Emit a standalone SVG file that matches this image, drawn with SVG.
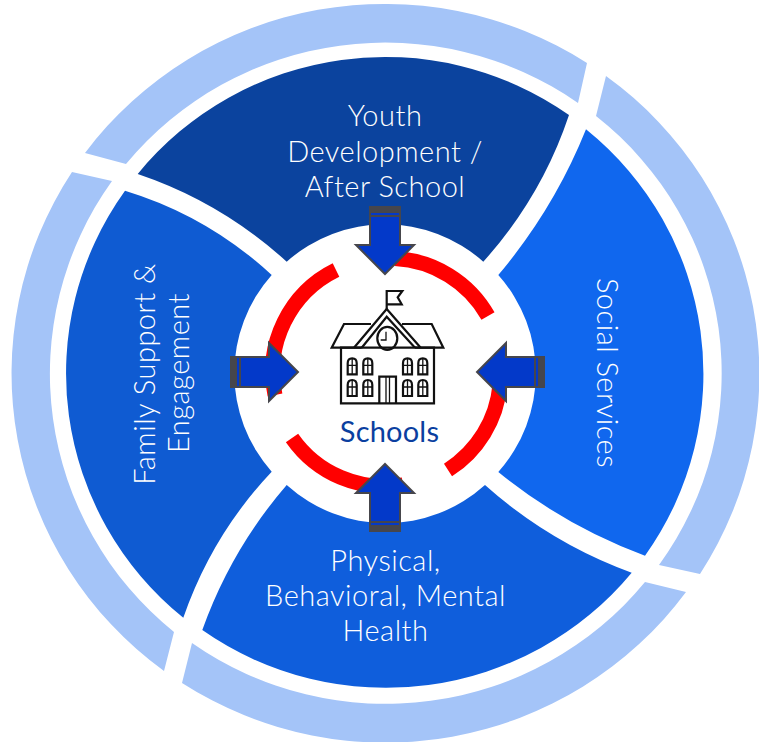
<svg xmlns="http://www.w3.org/2000/svg" width="759" height="742" viewBox="0 0 759 742">
<style>
.ring{fill:#a4c4f8}
.lbl{font-family:"Lato","Open Sans",sans-serif;font-weight:300;font-size:29px;letter-spacing:.5px;fill:#fff;text-anchor:middle}
.red{fill:none;stroke:#ff0000;stroke-width:15}
.arrow{fill:#0339c9;stroke:#46464c;stroke-width:2;stroke-linejoin:miter}
.band{fill:#46464c}
.ic{fill:none;stroke:#111;stroke-width:2.200}
.ic2{fill:none;stroke:#111;stroke-width:1.300}
</style>
<defs>
<g id="win"><path class="ic" d="M0,16V5Q0,0 4.500,0Q9,0 9,5V16Z"/><path class="ic2" d="M4.500,0V16M0,7H9"/></g>
<g id="arr"><path class="arrow" d="M-15,-67H15V-29H29L0,0L-29,-29H-15Z"/><rect class="band" x="-15" y="-67" width="30" height="6"/><rect class="band" x="-15" y="-59" width="30" height="2"/></g>
</defs>
<rect width="759" height="742" fill="#fff"/>
<g id="outer-ring">
<path class="ring" d="M85,153A373,369 0 0 1 587,63L578,103A334,329 0 0 0 126,164Z"/>
<path class="ring" d="M606,76A373,369 0 0 1 700,574L659,565A334,329 0 0 0 596,116Z"/>
<path class="ring" d="M686,592A373,369 0 0 1 182,683L192,643A334,329 0 0 0 645,582Z"/>
<path class="ring" d="M164,671A373,369 0 0 1 72,172L112,181A339,334 0 0 0 174,632Z"/>
</g>
<g id="node-youth">
<path fill="#0b439e" d="M137.700,174A318,315 0 0 1 569,115Q541.600,197 483.300,261.700A148,148 0 0 0 286.700,261.700Q221,202 137.700,174Z"/>
<text class="lbl"><tspan x="385" y="126">Youth</tspan><tspan x="385" y="161.500">Development /</tspan><tspan x="385" y="196.500">After School</tspan></text>
</g>
<g id="node-social">
<path fill="#1067ee" d="M586,129.300A318,315 0 0 1 645,555.700Q564.600,526 498.300,472A148,148 0 0 0 498.300,275Q554,209 586,129.300Z"/>
<text class="lbl" transform="translate(597,373) rotate(90)">Social Services</text>
</g>
<g id="node-health">
<path fill="#0f5edc" d="M631.700,572.700A318,315 0 0 1 202.300,630Q231,549.500 286.700,485A148,148 0 0 0 485,485Q550,543 631.700,572.700Z"/>
<text class="lbl"><tspan x="385.500" y="571">Physical,</tspan><tspan x="385.500" y="606">Behavioral, Mental</tspan><tspan x="385.500" y="641">Health</tspan></text>
</g>
<g id="node-family">
<path fill="#0f5bd2" d="M183.300,617.700A318,315 0 0 1 125,190.700Q208,216 271.700,275A148,148 0 0 0 271.700,471.700Q212,535 183.300,617.700Z"/>
<text class="lbl" transform="translate(155,374) rotate(-90)">Family Support &amp;</text>
<text class="lbl" transform="translate(189,373) rotate(-90)">Engagement</text>
</g>
<g id="node-schools">
<path class="red" d="M395,258.500A113.500,113.500 0 0 1 488,316"/>
<path class="red" d="M336,270A113.500,113.500 0 0 0 275,395"/>
<path class="red" d="M292,438A113.500,113.500 0 0 0 403,485"/>
<path class="red" d="M448,470A113.500,113.500 0 0 0 500,385"/>
<g id="school-icon">
<path class="ic" d="M341,347.700H434V403.300H341Z"/>
<path class="ic" d="M386.700,309V291H402.300L397.700,297.300L401.700,304.300H386.700"/>
<path class="ic" d="M354,347.700L386.700,309L420.700,347.700M361.700,347.700L386.700,316.700L415,347.700"/>
<path class="ic" d="M371,324H344L331.700,347.700H361.700M402,324H431.700L443.300,347.700H415"/>
<ellipse class="ic" cx="387.300" cy="338.300" rx="10" ry="11.500"/>
<path class="ic2" d="M386,331.700V340H380.700"/>
<use href="#win" x="347.700" y="358.300"/><use href="#win" x="363.300" y="358.300"/><use href="#win" x="403" y="358.300"/><use href="#win" x="418.300" y="358.300"/>
<use href="#win" x="347.700" y="380"/><use href="#win" x="363.300" y="380"/><use href="#win" x="403" y="380"/><use href="#win" x="418.300" y="380"/>
<path class="ic" d="M379.300,403.300V376.700H396V403.300"/>
<path class="ic2" d="M386,376.700V403.300M389.500,376.700V403.300"/>
</g>
<text x="389.500" y="441.700" style="font-family:Lato,'Open Sans',sans-serif;font-size:29px;letter-spacing:.2px;fill:#0b3fa0;text-anchor:middle">Schools</text>
</g>
<g id="connectors">
<use href="#arr" transform="translate(385,274)"/>
<use href="#arr" transform="translate(385,464) rotate(180)"/>
<use href="#arr" transform="translate(298,372) rotate(-90)"/>
<use href="#arr" transform="translate(477,372) rotate(90)"/>
</g>
</svg>
